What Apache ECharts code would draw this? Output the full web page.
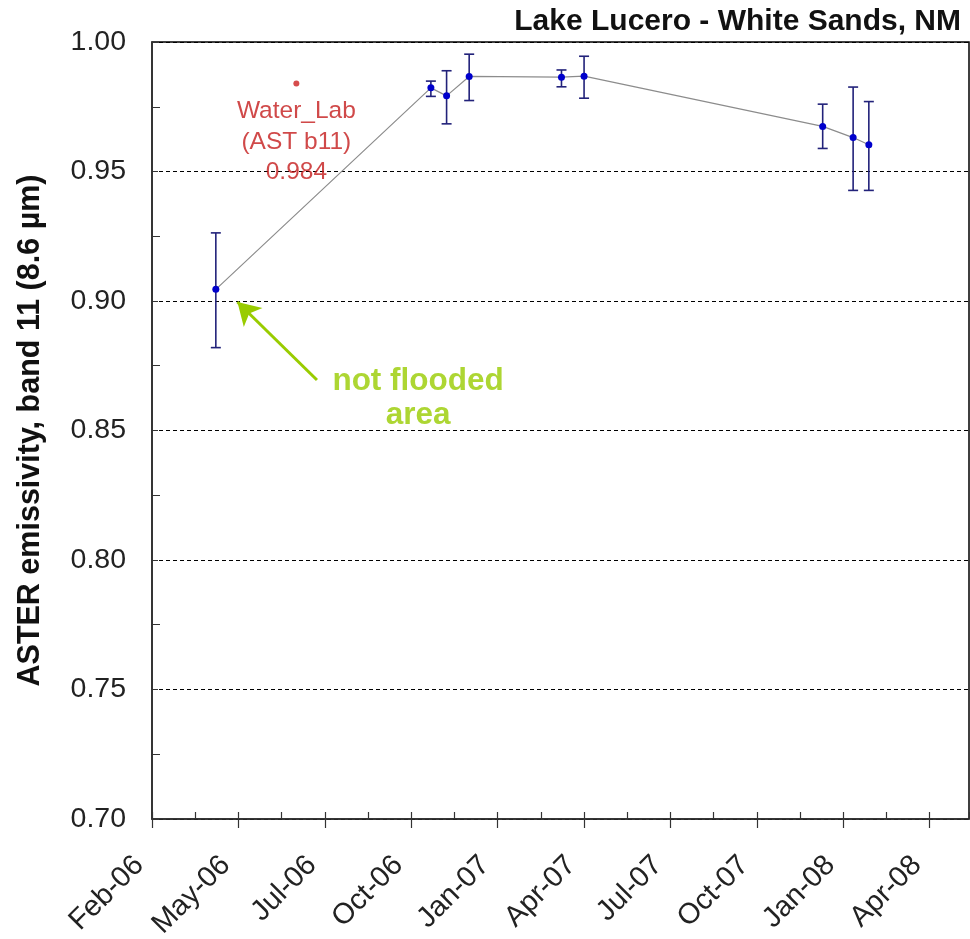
<!DOCTYPE html>
<html>
<head>
<meta charset="utf-8">
<script src="https://cdn.jsdelivr.net/npm/echarts@6/dist/echarts.min.js"></script>
<style>
html,body{margin:0;padding:0;background:#fff;}
#chart{width:970px;height:939px;}
</style>
</head>
<body>
<div id="chart"></div>
<script>
// ---- data ----
const axisStart = '2006-02-03';      // first tick (Feb-06)
const tickDays = 88;                  // spacing of the date ticks
const axisEnd = 832;                  // days after axisStart
const xTickLabels = ['Feb-06','May-06','Jul-06','Oct-06','Jan-07','Apr-07','Jul-07','Oct-07','Jan-08','Apr-08'];
const yTicks = { min: 0.70, max: 1.00, step: 0.05 };

const obsDates   = ['2006-04-09','2006-11-14','2006-11-30','2006-12-23','2007-03-27','2007-04-19','2007-12-18','2008-01-18','2008-02-03'];
const emissivity = [0.9045, 0.9823, 0.9792, 0.9867, 0.9864, 0.9868, 0.9674, 0.9631, 0.9603];
const errLow     = [0.8820, 0.9790, 0.9684, 0.9774, 0.9827, 0.9783, 0.9589, 0.9427, 0.9427];
const errHigh    = [0.9263, 0.9849, 0.9889, 0.9953, 0.9892, 0.9945, 0.9760, 0.9826, 0.9770];

const labDate = '2006-06-30';
const labValue = 0.984;
const labText = 'Water_Lab\n(AST b11)\n0.984';

const noteText = 'not flooded\narea';
const noteAt = ['2006-11-01', 0.8625];
const arrowFrom = ['2006-07-21', 0.8695];
const arrowTo = ['2006-05-01', 0.8996];

// ---- helpers ----
const DAY = 86400000;
function days(d){ return (Date.parse(d) - Date.parse(axisStart)) / DAY; }

const lineData = obsDates.map((d,i)=>[days(d), emissivity[i]]);
const errData = obsDates.map((d,i)=>[days(d), errLow[i], errHigh[i]]);

const FONT = 'Liberation Sans, Arial, sans-serif';

const chart = echarts.init(document.getElementById('chart'), null, {renderer:'canvas'});

const option = {
  animation: false,
  backgroundColor: '#fff',
  title: {
    text: 'Lake Lucero - White Sands, NM',
    right: 4, top: 2,
    textStyle: { fontFamily: FONT, fontSize: 30, fontWeight: 'bold', color: '#111' }
  },
  grid: {
    left: 152, right: 1, top: 42, bottom: 120,
    outerBoundsMode: 'none', containLabel: false,
    show: true, borderColor: '#000', borderWidth: 1.5, backgroundColor: 'transparent'
  },
  xAxis: [{
    type: 'value', min: 0, max: axisEnd, interval: tickDays,
    axisLine: { show: true, onZero: false, lineStyle: { color: '#333', width: 1.5 } },
    axisTick: { show: true, inside: false, length: 9, lineStyle: { color: '#333', width: 1.2 } },
    splitLine: { show: false },
    axisLabel: {
      rotate: 45, margin: 29, showMaxLabel: false,
      padding: [0, 18, 0, 0],
      fontFamily: FONT, fontSize: 29, color: '#222',
      formatter: function(v){
        const k = v / tickDays;
        return Math.abs(k - Math.round(k)) < 1e-6 ? (xTickLabels[Math.round(k)] || '') : '';
      }
    }
  }, {
    type: 'value', min: 0, max: axisEnd, interval: tickDays / 2, position: 'bottom',
    axisLine: { show: false, onZero: false },
    axisTick: { show: true, inside: true, length: 7, lineStyle: { color: '#333', width: 1.2 } },
    axisLabel: { show: false },
    splitLine: { show: false }
  }],
  yAxis: {
    type: 'value', min: yTicks.min, max: yTicks.max, interval: yTicks.step,
    name: 'ASTER emissivity, band 11 (8.6 µm)',
    nameLocation: 'middle', nameGap: 106, nameRotate: 90,
    nameTextStyle: { fontFamily: FONT, fontSize: 30.5, fontWeight: 'bold', color: '#111' },
    axisLine: { show: true, onZero: false, lineStyle: { color: '#333', width: 1.5 } },
    axisTick: { show: true, inside: true, length: 6, lineStyle: { color: '#333' } },
    minorTick: { show: true, splitNumber: 2, length: 8, lineStyle: { color: '#333' } },
    splitLine: { show: true, lineStyle: { color: '#000', width: 1, type: [4, 3] } },
    axisLabel: {
      margin: 26, fontFamily: FONT, fontSize: 28.5, color: '#222',
      formatter: v => v.toFixed(2)
    }
  },
  series: [
    {
      name: 'error',
      type: 'custom',
      z: 2,
      data: errData,
      renderItem: function(params, api){
        const x = api.value(0);
        const lo = api.coord([x, api.value(1)]);
        const hi = api.coord([x, api.value(2)]);
        const cap = 5;
        const st = { stroke: '#22227a', lineWidth: 1.6 };
        return { type: 'group', children: [
          { type: 'line', shape: { x1: lo[0], y1: lo[1], x2: hi[0], y2: hi[1] }, style: st },
          { type: 'line', shape: { x1: lo[0]-cap, y1: lo[1], x2: lo[0]+cap, y2: lo[1] }, style: st },
          { type: 'line', shape: { x1: hi[0]-cap, y1: hi[1], x2: hi[0]+cap, y2: hi[1] }, style: st }
        ]};
      }
    },
    {
      name: 'ASTER b11',
      type: 'line',
      z: 3,
      data: lineData,
      symbol: 'circle', symbolSize: 7,
      itemStyle: { color: '#0000cc' },
      lineStyle: { color: '#8c8c8c', width: 1.2 },
      markLine: {
        silent: true,
        symbol: ['none', 'arrow'], symbolSize: [20, 22],
        lineStyle: { color: '#99cc00', width: 3, type: 'solid' },
        label: { show: false },
        data: [[
          { coord: [days(arrowFrom[0]), arrowFrom[1]] },
          { coord: [days(arrowTo[0]), arrowTo[1]] }
        ]]
      }
    },
    {
      name: 'Water_Lab',
      type: 'scatter',
      z: 4,
      data: [[days(labDate), labValue]],
      symbol: 'circle', symbolSize: 6,
      itemStyle: { color: '#cc1f1f' },
      label: {
        show: true, position: 'bottom', distance: 10,
        formatter: labText,
        fontFamily: FONT, fontSize: 24.5, lineHeight: 30.5, color: '#c41c1c', align: 'center'
      }
    },
    {
      name: 'note',
      type: 'scatter',
      z: 4,
      silent: true,
      data: [[days(noteAt[0]), noteAt[1]]],
      symbolSize: 0,
      label: {
        show: true, position: 'inside',
        formatter: noteText,
        fontFamily: FONT, fontSize: 31.5, fontWeight: 'bold', lineHeight: 34,
        color: '#99cc00', align: 'center'
      }
    }
  ]
};
chart.setOption(option);
</script>
</body>
</html>
